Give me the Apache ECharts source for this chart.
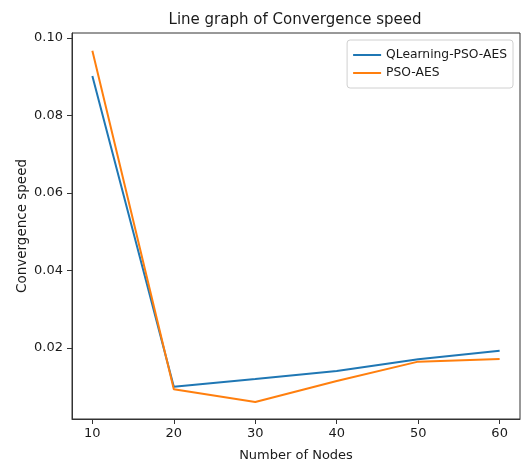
<!DOCTYPE html>
<html><head><meta charset="utf-8">
<script src="https://cdn.jsdelivr.net/npm/echarts@6/dist/echarts.min.js"></script>
<style>html,body{margin:0;padding:0;background:#fff}#c{width:531px;height:467px}</style>
</head><body><div id="c"></div>
<script>
const nodes = [10, 20, 30, 40, 50, 60];
const qlearning = [0.0902, 0.0100, 0.0120, 0.0141, 0.0171, 0.0193];
const psoAes = [0.0967, 0.0094, 0.0061, 0.0115, 0.0165, 0.0172];
const yTicks = [0.02, 0.04, 0.06, 0.08, 0.10];
const xTicks = [10, 20, 30, 40, 50, 60];

const font = 'DejaVu Sans';
const chart = echarts.init(document.getElementById('c'), null, {renderer: 'canvas'});
chart.setOption({
  animation: false,
  backgroundColor: '#fff',
  title: {
    text: 'Line graph of Convergence speed',
    left: 290, top: 8, textAlign: 'center',
    textStyle: {fontFamily: font, fontSize: 15, fontWeight: 'normal', color: '#1a1a1a'}
  },
  legend: {
    right: 18, top: 40, orient: 'vertical',
    itemWidth: 28, itemHeight: 2, itemGap: 6,
    icon: 'rect',
    borderColor: '#d0d0d0', borderWidth: 1, borderRadius: 3,
    padding: [9, 6, 9, 6],
    textStyle: {fontFamily: font, fontSize: 12.3, color: '#1a1a1a'},
    data: ['QLearning-PSO-AES', 'PSO-AES']
  },
  grid: {left: 72, right: 11, top: 33, bottom: 48, show: true, borderColor: '#333', borderWidth: 1},
  xAxis: {
    type: 'value', min: 7.5, max: 62.5,
    name: 'Number of Nodes', nameLocation: 'middle', nameGap: 30,
    nameTextStyle: {fontFamily: font, fontSize: 13, color: '#1a1a1a'},
    axisLine: {show: true, onZero: false, lineStyle: {color: '#333'}},
    axisTick: {show: true, length: 5, customValues: xTicks, lineStyle: {color: '#333'}},
    axisLabel: {customValues: xTicks, fontFamily: font, fontSize: 13, color: '#1a1a1a', margin: 8},
    splitLine: {show: false}
  },
  yAxis: {
    type: 'value', min: 0.0017, max: 0.1013,
    name: 'Convergence speed', nameLocation: 'middle', nameGap: 43, nameMoveOverlap: false,
    nameTextStyle: {fontFamily: font, fontSize: 13.5, color: '#1a1a1a'},
    axisLine: {show: true, onZero: false, lineStyle: {color: '#333'}},
    axisTick: {show: true, length: 5, customValues: yTicks, lineStyle: {color: '#333'}},
    axisLabel: {customValues: yTicks, fontFamily: font, fontSize: 13, color: '#1a1a1a', margin: 9,
      formatter: v => v.toFixed(2)},
    splitLine: {show: false}
  },
  series: [
    {name: 'QLearning-PSO-AES', type: 'line', data: nodes.map((n, i) => [n, qlearning[i]]),
     symbol: 'none', lineStyle: {width: 2, color: '#1f77b4'}, itemStyle: {color: '#1f77b4'}},
    {name: 'PSO-AES', type: 'line', data: nodes.map((n, i) => [n, psoAes[i]]),
     symbol: 'none', lineStyle: {width: 2, color: '#ff7f0e'}, itemStyle: {color: '#ff7f0e'}}
  ]
});
</script></body></html>
